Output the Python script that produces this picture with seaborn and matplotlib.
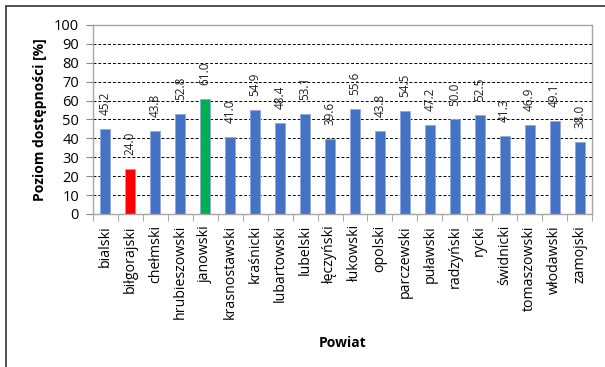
import matplotlib
matplotlib.use("Agg")
import matplotlib.pyplot as plt
from matplotlib.lines import Line2D
from matplotlib.ticker import FixedLocator
import seaborn as sns
import pandas as pd
import numpy as np

# Poziom dostępności w powiatach
powiaty = ["bialski", "biłgorajski", "chełmski", "hrubieszowski", "janowski",
           "krasnostawski", "kraśnicki", "lubartowski", "lubelski", "łęczyński",
           "łukowski", "opolski", "parczewski", "puławski", "radzyński",
           "rycki", "świdnicki", "tomaszowski", "włodawski", "zamojski"]
dostepnosc = [45.2, 24.0, 43.8, 52.8, 61.0, 41.0, 54.9, 48.4, 53.1, 39.6,
              55.6, 43.8, 54.5, 47.2, 50.0, 52.5, 41.3, 46.9, 49.1, 38.0]
kolory = ["#4472C4"] * len(powiaty)
kolory[1] = "#FF0000"
kolory[4] = "#00B050"

df = pd.DataFrame({"Powiat": powiaty, "Poziom": dostepnosc})

sns.set_theme(style="white")
plt.rcParams["font.family"] = ["Open Sans", "DejaVu Sans"]
plt.rcParams["text.color"] = "black"
plt.rcParams["xtick.color"] = "black"
plt.rcParams["ytick.color"] = "black"
plt.rcParams["axes.labelcolor"] = "black"

fig = plt.figure(figsize=(6.05, 3.67), dpi=100)
ax = fig.add_axes([93 / 605, 1 - 214 / 367, (592 - 93) / 605, (214 - 25) / 367])

sns.barplot(data=df, x="Powiat", y="Poziom", hue="Powiat", palette=kolory,
            legend=False, width=0.4, ax=ax, edgecolor="#8FAADC", linewidth=0.6,
            saturation=1)

ax.set_ylim(0, 100)
ax.set_xlim(-0.5, len(powiaty) - 0.5)
ax.set_yticks(np.arange(0, 101, 10))
ax.tick_params(axis="y", labelsize=10.5, length=5, color="#888888", width=0.8,
               pad=5, left=True)
ax.set_xticks(range(len(powiaty)))
ax.set_xticklabels(powiaty, rotation=90, fontsize=10.2)
ax.tick_params(axis="x", which="major", length=0, pad=8)
ax.xaxis.set_minor_locator(FixedLocator(np.arange(-0.5, len(powiaty), 1)))
ax.tick_params(axis="x", which="minor", length=5, color="#AAAAAA", width=0.8,
               bottom=True)

for yv in range(10, 100, 10):
    ax.axhline(yv, color="black", lw=0.7, ls=(0, (3, 2)), zorder=0)

for s in ax.spines.values():
    s.set_visible(True)
    s.set_color("#A6A6A6")
    s.set_linewidth(1.0)

for i, v in enumerate(dostepnosc):
    ax.annotate(f"{v:.1f}", (i, v), xytext=(0, 10), textcoords="offset points",
                rotation=90, ha="center", va="bottom", fontsize=8.5,
                color="#222222")

ax.set_xlabel("Powiat", fontsize=10, fontweight="bold", labelpad=12)
ax.set_ylabel("Poziom dostępności [%]", fontsize=10, fontweight="bold",
              labelpad=5)

# ramka obszaru wykresu
fig.add_artist(Line2D([6 / 605, 1], [1 - 6 / 367, 1 - 6 / 367],
                      color="#333333", lw=1.2, transform=fig.transFigure))
fig.add_artist(Line2D([6 / 605, 6 / 605], [0, 1 - 6 / 367],
                      color="#333333", lw=1.2, transform=fig.transFigure))

fig.savefig("out.png", dpi=100, facecolor="white")
